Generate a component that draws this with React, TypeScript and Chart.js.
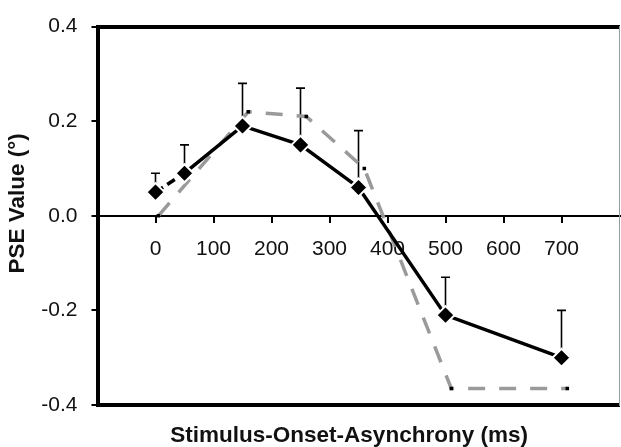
import React, { useEffect, useRef } from "react";
import { Chart, registerables } from "chart.js";

Chart.register(...registerables);

// ---- data ----
const soaMs = [0, 50, 150, 250, 350, 500, 700];
const pseBlack = [0.05, 0.09, 0.19, 0.15, 0.06, -0.21, -0.3];
const pseBlackUpper = [0.09, 0.15, 0.28, 0.27, 0.18, -0.13, -0.2];
const soaMsGray = [5, 160, 260, 360, 510, 710];
const pseGray = [0.0, 0.22, 0.21, 0.1, -0.365, -0.365];
const xTickValues = [0, 100, 200, 300, 400, 500, 600, 700];
const yTickValues = [-0.4, -0.2, 0.0, 0.2, 0.4];
const xTitle = "Stimulus-Onset-Asynchrony (ms)";
const yTitle = "PSE Value (°)";

const FONT = '"Liberation Sans", Arial, Helvetica, sans-serif';

const errorBarPlugin = {
  id: "errorBars",
  beforeDatasetsDraw(chart: any) {
    const { ctx } = chart;
    const xs = chart.scales.x;
    const ys = chart.scales.y;
    ctx.save();
    ctx.strokeStyle = "#000";
    ctx.lineWidth = 1.6;
    soaMs.forEach((ms, i) => {
      const px = xs.getPixelForValue(ms);
      const py0 = ys.getPixelForValue(pseBlack[i]);
      const py1 = ys.getPixelForValue(pseBlackUpper[i]);
      ctx.beginPath();
      ctx.moveTo(px, py0);
      ctx.lineTo(px, py1);
      ctx.moveTo(px - 4.5, py1);
      ctx.lineTo(px + 4.5, py1);
      ctx.stroke();
    });
    ctx.restore();
  },
};

const noPad = (s: any) => {
  s.paddingLeft = 0;
  s.paddingRight = 0;
};

export default function App() {
  const ref = useRef<HTMLCanvasElement | null>(null);

  useEffect(() => {
    if (!ref.current) return;
    Chart.defaults.font.family = FONT;
    Chart.defaults.color = "#111";

    const chart = new Chart(ref.current, {
      type: "line",
      data: {
        datasets: [
          {
            label: "black",
            data: soaMs.map((x, i) => ({ x, y: pseBlack[i] })),
            borderColor: "#000",
            borderWidth: 3.5,
            pointStyle: "rectRot",
            pointRadius: 9,
            pointBackgroundColor: "#000",
            pointBorderColor: "#fff",
            pointBorderWidth: 2,
            tension: 0,
            segment: {
              borderDash: (c: any) => (c.p0DataIndex === 0 ? [9, 5] : undefined),
            },
          },
          {
            label: "gray",
            data: soaMsGray.map((x, i) => ({ x, y: pseGray[i] })),
            borderColor: "#9a9a9a",
            borderWidth: 3.5,
            borderDash: [17, 14],
            pointStyle: "rect",
            pointRadius: 2.5,
            pointBackgroundColor: "#000",
            pointBorderWidth: 0,
            tension: 0,
          },
        ],
      },
      options: {
        responsive: false,
        animation: false,
        layout: { autoPadding: false, padding: { top: 23, left: 0, right: 1.5, bottom: 0 } },
        plugins: { legend: { display: false }, tooltip: { enabled: false } },
        scales: {
          x: {
            type: "linear",
            position: { y: 0 } as any,
            min: -100,
            max: 800,
            z: 1,
            afterBuildTicks: (s: any) => {
              s.ticks = xTickValues.map((v) => ({ value: v }));
            },
            afterFit: noPad,
            ticks: {
              font: { size: 21 },
              padding: 15,
              showLabelBackdrop: true,
              backdropColor: "#fff",
              backdropPadding: 2,
              callback: (v: any) => String(v),
            },
            grid: {
              display: true,
              drawOnChartArea: false,
              drawTicks: true,
              tickLength: 6,
              lineWidth: 2,
              color: "#000",
            },
            border: { display: true, width: 2, color: "#000" },
          },
          y: {
            type: "linear",
            position: "left",
            min: -0.4,
            max: 0.4,
            afterBuildTicks: (s: any) => {
              s.ticks = yTickValues.map((v) => ({ value: v }));
            },
            afterFit: (s: any) => {
              s.width = 97.5;
            },
            ticks: {
              font: { size: 21 },
              padding: 14,
              callback: (v: any) => (Math.abs(Number(v)) < 1e-9 ? "0.0" : Number(v).toFixed(1)),
            },
            grid: {
              display: true,
              drawOnChartArea: false,
              drawTicks: true,
              tickLength: 6,
              lineWidth: 2,
              color: "#000",
            },
            border: { display: true, width: 4, color: "#000" },
            title: {
              display: true,
              text: "    " + yTitle,
              font: { size: 22.5, weight: "bold", lineHeight: 1 },
              padding: { top: 7, bottom: 0 },
              color: "#111",
            },
          },
          xTop: {
            type: "linear",
            axis: "x",
            position: "top",
            afterFit: noPad,
            ticks: { display: false },
            grid: { display: false, drawTicks: false },
            border: { display: true, width: 4, color: "#000" },
          },
          xBottom: {
            type: "linear",
            axis: "x",
            position: "bottom",
            afterFit: noPad,
            ticks: { display: false },
            grid: { display: false, drawTicks: false },
            border: { display: true, width: 4, color: "#000" },
            title: {
              display: true,
              text: xTitle + "   ",
              font: { size: 22.5, weight: "bold", lineHeight: 1 },
              padding: { top: 19.5, bottom: 0 },
              color: "#111",
            },
          },
          yRight: {
            type: "linear",
            axis: "y",
            position: "right",
            afterFit: (s: any) => {
              s.width = 0;
            },
            ticks: { display: false },
            grid: { display: false, drawTicks: false },
            border: { display: true, width: 1, color: "#999" },
          },
        },
      } as any,
      plugins: [errorBarPlugin],
    });
    return () => chart.destroy();
  }, []);

  return (
    <div style={{ position: "fixed", left: 0, top: 0, width: 621, height: 447, background: "#fff" }}>
      <canvas ref={ref} width={621} height={447} style={{ width: 621, height: 447, display: "block" }} />
    </div>
  );
}
